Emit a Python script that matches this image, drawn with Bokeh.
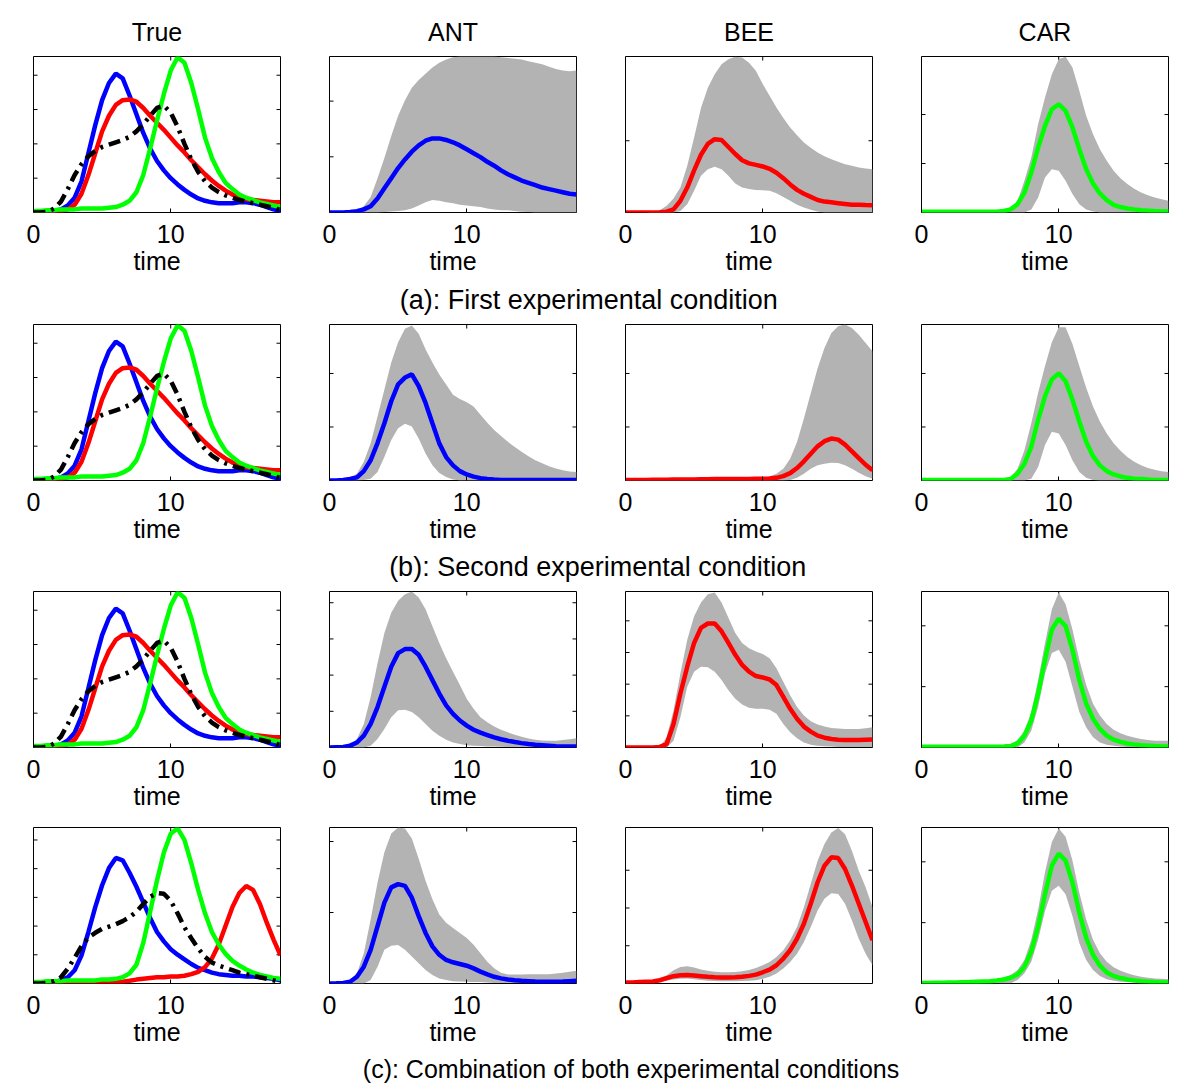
import math
from bokeh.plotting import figure
from bokeh.models import Range1d, FixedTicker, LinearAxis, Label
from bokeh.layouts import column, row
from bokeh.embed import file_html
from bokeh.resources import INLINE

# ---------------- data (time grid 0..18, step 0.5) ----------------
time = [i * 0.5 for i in range(37)]

col_titles = ["True", "ANT", "BEE", "CAR"]
captions = ["(a):  First experimental condition",
            "(b):  Second experimental condition",
            "(c):  Combination of both experimental conditions"]
x_ticks = [0, 10]

# true profiles (conditions a, b and first row of c)
true_blue = [0, 0, 0.5, 1, 2, 4.5, 9.5, 20, 38, 56, 72, 83, 89, 86, 75, 63, 51, 41, 33, 27,
             22, 18, 14.5, 11.5, 9, 7.5, 6.5, 6, 6, 6, 6.5, 6.5, 6, 5, 3.5, 2, 1]
true_red = [0, 0, 0, 0.5, 1, 2, 5, 12, 24, 38, 52, 62, 69, 72, 72.5, 71, 67, 62, 57.5, 53,
            48, 43, 38.5, 33.5, 29, 24.5, 20.5, 17, 14, 11.5, 10, 8.5, 8, 7.5, 7, 6.5, 6.5]
true_green = [1, 1, 1.5, 1.5, 2, 2, 2, 2.5, 2.5, 2.5, 2.5, 3, 3.5, 5, 7.5, 13, 24, 41, 59, 76,
              91, 99.5, 96, 83, 66, 48, 35, 26, 19, 15, 11.5, 9.5, 8, 6.5, 5.5, 4.5, 3.5]
true_black = [0, 0, 0.5, 2.5, 7, 15, 24, 31, 36, 39.5, 42, 43.5, 45, 46.5, 48.5, 52, 56.5, 62, 67, 68.5,
              64, 55, 44, 34, 26, 20, 16, 13, 11, 9.5, 8, 7, 6, 5, 4, 3, 1.5]
# true profiles, last row
true4_blue = [0, 0, 0.5, 1, 2, 4, 8.5, 18, 33, 49, 63, 74, 80.5, 79, 71, 62, 52, 42, 33, 27,
              22, 18.5, 15.5, 12.5, 10, 8.5, 7, 6, 5.5, 5, 5, 4.5, 4.5, 4, 3.5, 3, 2]
true4_red = [0, 0, 0, 0, 0, 0, 0, 0, 0, 0.2, 0.3, 0.5, 0.8, 1.2, 1.8, 2.5, 3, 3.5, 4, 4,
             4.5, 4.5, 5, 6, 7.5, 10.5, 16, 25, 37, 49, 58, 62.5, 60, 51, 39, 28, 18]
true4_green = [1, 1, 1.5, 1.5, 1.5, 2, 2, 2, 2, 2, 2.5, 2.5, 3, 4, 6.5, 12, 26, 46, 66, 84,
               96, 99.5, 92, 77, 60, 45, 33, 25, 19, 14.5, 11.5, 9, 7, 5.5, 4.5, 3.5, 3]
true4_black = [0, 0, 0.5, 1.5, 4, 9.5, 16.5, 24, 29.5, 32.5, 35, 36.5, 38, 40, 42.5, 46, 51, 55.5, 58, 57.5,
               53, 45, 36, 29, 22.5, 17, 13.5, 11.5, 10, 8.5, 7, 6, 5, 4, 3, 2, 1]

# ANT estimates: mean, lower, upper
ant1_mean = [0, 0, 0, 0.3, 0.8, 2, 4, 9, 15.5, 22, 28.5, 34, 39, 43, 46, 47.5, 47.5, 46.5, 45, 43,
             40.5, 38, 35.5, 32.5, 30, 27, 24.5, 22.5, 20.5, 19, 17.5, 16, 15, 14, 13, 12, 11.5]
ant1_lo = [0, 0, 0, 0, 0, 0, 0, 0, 0.3, 0.6, 1, 1.5, 2.5, 4.5, 6.5, 8, 7.5, 6.5, 6, 5,
           4.5, 4, 3.5, 2.5, 2, 1.5, 1.5, 1, 0.5, 0.3, 0, 0, 0, 0, 0, 0, 0]
ant1_hi = [0, 0, 0, 0.5, 1.5, 4, 10, 22, 35, 49, 62, 72, 80, 85, 89, 93, 96, 98, 99.5, 100,
           100, 100, 100, 100, 100, 99.5, 99, 98.5, 98, 97, 96, 95, 93.5, 92, 91, 90.5, 91]
ant2_mean = [0, 0, 0.4, 1, 2, 6, 13, 24, 36.7, 50.8, 61.6, 66, 68, 60.5, 49.7, 36.7, 23.8, 15, 9.7, 6,
             3.9, 2.5, 1.5, 1, 0.6, 0.4, 0.4, 0.4, 0.4, 0.4, 0.4, 0.4, 0.4, 0.4, 0.4, 0.4, 0.4]
ant2_lo = [0, 0, 0, 0, 0, 0.3, 1.1, 5.4, 15, 26, 33.5, 36.3, 34.6, 27, 17.3, 9.7, 4.8, 2.2, 0.6, 0,
           0, 0, 0, 0, 0, 0, 0, 0, 0, 0, 0, 0, 0, 0, 0, 0, 0]
ant2_hi = [0, 0.3, 1, 2, 4.3, 12, 23.8, 41, 58.3, 75.6, 88.6, 97.2, 99.4, 94, 84.2, 75.6, 68, 61.6, 55, 52.3,
           50.1, 47.5, 42.1, 37, 32.4, 28.5, 24.8, 21.5, 18.4, 15.5, 13, 11, 9.1, 7.7, 6.5, 5.8, 5.4]
ant3_mean = [0, 0.2, 0.4, 1.2, 3.2, 7.6, 15.1, 25.9, 38.9, 51.8, 60.5, 63.1, 63.1, 59.4, 51.8, 43.2, 34.6, 27, 21.6, 17.3,
             14, 11.4, 9.5, 8, 6.5, 5.3, 4.3, 3.5, 2.8, 2.2, 1.7, 1.4, 1.1, 0.8, 0.6, 0.6, 0.6]
ant3_lo = [0, 0, 0, 0, 0, 0, 1.1, 5.4, 11.9, 19.4, 23.8, 24.2, 22.7, 19.4, 15.1, 10.8, 7.6, 5, 3.2, 2.2,
           1.5, 1.1, 0.9, 0.7, 0.6, 0.5, 0.4, 0.4, 0.4, 0.4, 0.4, 0.4, 0.4, 0.4, 0.4, 0.4, 0.4]
ant3_hi = [0, 0.1, 0.4, 1.8, 5.4, 15.1, 32.4, 54, 73.4, 86.4, 94, 98.3, 100, 96.1, 88.6, 77.8, 67, 57.2, 48.6, 40,
           31.3, 24.8, 19.4, 16.2, 13.4, 11.4, 9.7, 8.2, 6.9, 5.8, 5, 4.5, 4.3, 4.4, 4.8, 5.3, 6]
ant4_mean = [0, 0.1, 0.4, 1.1, 4.3, 10.8, 21.6, 36.7, 51.8, 61.6, 63.7, 62.6, 55, 43.2, 32.4, 23.8, 18.4, 15.1, 13.6, 12.5,
             11.4, 9.7, 7.6, 5.8, 4.3, 3.3, 2.6, 2.1, 1.7, 1.5, 1.3, 1.2, 1.1, 1.2, 1.3, 1.5, 1.7]
ant4_lo = [0, 0, 0, 0, 0, 0, 2.2, 10.8, 21.6, 24.2, 24.6, 21.6, 17.3, 13, 8.6, 5.4, 3.2, 2.2, 1.5, 1.3,
           1.1, 1, 0.9, 0.6, 0.4, 0.4, 0.4, 0.4, 0.4, 0.4, 0.4, 0.4, 0.4, 0.4, 0.4, 0.4, 0.4]
ant4_hi = [0, 0.1, 0.4, 2.2, 6.5, 19.4, 41, 64.8, 84.2, 96.1, 100, 99.4, 92.9, 79.9, 65.9, 54, 44.3, 38.9, 35.6, 32.4,
           29.2, 24.8, 19.4, 14, 9.7, 6.9, 5.8, 5.8, 5.8, 5.9, 6, 6, 6, 6.4, 6.9, 7.5, 8.2]

# BEE estimates
bee1_mean = [0, 0, 0, 0, 0, 0.2, 0.5, 2, 7.5, 16, 27, 37, 44, 47, 46.5, 42, 37.5, 33.5, 31.5, 30.5,
             29.5, 28, 25.5, 22, 18, 14.5, 12, 10, 8, 7, 6.5, 6, 5.5, 5, 5, 4.8, 4.7]
bee1_lo = [0, 0, 0, 0, 0, 0, 0, 0, 1, 5.3, 13.9, 23.5, 27.8, 29.3, 27.8, 23.5, 18.6, 16, 15, 14.5,
           14.3, 13.9, 12.4, 10, 7.5, 4.9, 3.2, 1.7, 0.6, 0, 0, 0, 0, 0, 0, 0, 0]
bee1_hi = [0, 0, 0, 0, 0.5, 1.5, 4.3, 9, 16, 30, 48, 67, 80, 88.7, 95, 98.3, 99.8, 99.4, 96, 90.8,
           82.3, 74.8, 67.3, 60.5, 54.5, 49.5, 44.9, 41.5, 38.5, 36, 34.2, 32.5, 31, 30, 28.8, 28.2, 27.8]
bee2_mean = [0.4, 0.4, 0.4, 0.4, 0.5, 0.5, 0.5, 0.6, 0.6, 0.7, 0.7, 0.8, 0.8, 0.9, 0.9, 1, 1, 1, 1, 1.1,
             1.1, 1.3, 1.7, 2.8, 4.7, 8, 12.3, 17.2, 21.9, 25.2, 26.9, 26.2, 23, 18.7, 14.4, 10.1, 6.5]
bee2_lo = [0, 0, 0, 0, 0, 0, 0, 0, 0, 0, 0, 0, 0, 0, 0, 0, 0, 0, 0, 0,
           0, 0, 0, 0, 0.4, 1.7, 4.3, 7.5, 9.7, 10.8, 11.4, 11.2, 9.7, 7.5, 4.9, 2.8, 1.1]
bee2_hi = [0.4, 0.4, 0.5, 0.5, 0.6, 0.6, 0.7, 0.7, 0.8, 0.9, 1, 1, 1.1, 1.2, 1.3, 1.4, 1.5, 1.6, 1.7, 1.8,
           2, 2.6, 4.3, 7.5, 14, 24.7, 39.8, 55.9, 72, 85, 94.6, 98.9, 100, 97.8, 93.5, 88.2, 82.8]
bee3_mean = [0, 0, 0, 0, 0, 0.4, 2.2, 15.1, 34.6, 51.8, 67, 76.7, 79.5, 79.5, 74.5, 67, 59.4, 52.9, 48.6, 45.8,
             44.9, 43.6, 40, 32.4, 24.8, 18.4, 13.4, 10.2, 7.6, 6.3, 5.4, 5, 4.8, 4.8, 4.8, 5, 5.2]
bee3_lo = [0, 0, 0, 0, 0, 0, 0, 4.3, 19.4, 38.9, 48.6, 51.8, 51.4, 48.6, 43.2, 36.7, 31.3, 27.6, 25.5, 24.8,
           24.8, 24.2, 21.6, 15.1, 9.7, 6, 3.2, 1.7, 1.1, 0.8, 0.6, 0.4, 0.4, 0.4, 0.4, 0.4, 0.4]
bee3_hi = [0, 0, 0, 0, 0, 0.4, 6.5, 23.8, 47.5, 69.1, 84.2, 92.9, 98.3, 99.4, 92.9, 83.2, 73.4, 67, 63.7, 61.6,
           60, 57.2, 50.8, 42.1, 33.5, 25.9, 20.5, 16.8, 14.7, 13.4, 12.5, 12.1, 11.9, 11.9, 11.9, 12.3, 13]
bee4_mean = [0.6, 0.7, 0.9, 1.1, 1.3, 2.1, 3.4, 4.7, 5.3, 5.5, 5.1, 4.7, 4.3, 4, 3.8, 3.8, 4, 4.3, 4.9, 5.7,
             7.2, 8.9, 11.7, 16, 21.3, 28.7, 38.3, 51.1, 64.9, 75.5, 80.9, 80.4, 73.4, 62.8, 51.1, 39.4, 27.7]
bee4_lo = [0, 0.2, 0.3, 0.4, 0.6, 1.1, 1.7, 2.6, 3, 3.2, 2.8, 2.2, 1.7, 1.6, 1.5, 1.5, 1.5, 1.6, 1.7, 2.1,
           3, 4.3, 6.4, 9.6, 13.8, 19.1, 26.6, 36.2, 46.8, 54.3, 57.9, 57.4, 51.1, 40.4, 28.7, 19.1, 11.7]
bee4_hi = [0.6, 0.8, 1, 1.3, 1.7, 3.2, 5.3, 8.5, 10.6, 11.1, 10.2, 8.9, 8.1, 7.6, 7.2, 7.2, 7.4, 7.9, 8.7, 10,
           11.7, 13.8, 17, 21.3, 27.7, 36.2, 48.9, 63.8, 78.7, 89.4, 96.8, 99.6, 95.7, 85.1, 72.3, 61.7, 48.9]

# CAR estimates
car1_mean = [0.5, 0.5, 0.5, 0.5, 0.5, 0.5, 0.5, 0.5, 0.5, 0.5, 0.5, 0.5, 1, 2, 5.3, 12.8, 25.6, 41.7, 55.6, 66.2,
             69.4, 65.2, 54.5, 40.6, 27.8, 18.6, 12.2, 7.9, 4.9, 3.5, 2.6, 2, 1.5, 1.2, 0.9, 0.7, 0.6]
car1_lo = [0, 0, 0, 0, 0, 0, 0, 0, 0, 0, 0, 0, 0, 0, 0, 0, 2, 9.6, 22.4, 27.8,
           26.7, 20.3, 11.8, 5.3, 2, 0.6, 0, 0, 0, 0, 0, 0, 0, 0, 0, 0, 0]
car1_hi = [0.5, 0.5, 0.5, 0.5, 0.5, 0.5, 0.5, 0.5, 0.5, 0.5, 0.5, 0.5, 1.2, 3, 7.5, 20.3, 35.3, 56.6, 73.7, 88.7,
           98.3, 99.8, 93, 78, 62, 50.2, 40.6, 33.1, 26.7, 22, 18.2, 15.2, 12.8, 11, 9.6, 8.5, 7.5]
car2_mean = [0.4, 0.4, 0.4, 0.4, 0.4, 0.4, 0.4, 0.4, 0.4, 0.4, 0.4, 0.4, 0.4, 1, 4.3, 10.8, 21.6, 38.9, 54, 64.8,
             68.7, 63.7, 51.8, 37.8, 24.8, 15.6, 9.7, 6, 3.9, 2.6, 1.7, 1.2, 0.9, 0.6, 0.4, 0.4, 0.4]
car2_lo = [0, 0, 0, 0, 0, 0, 0, 0, 0, 0, 0, 0, 0, 0, 0, 0, 1.1, 8.6, 22.7, 31.3,
           30.2, 22.7, 13, 5.4, 1.7, 0.4, 0, 0, 0, 0, 0, 0, 0, 0, 0, 0, 0]
car2_hi = [0.4, 0.4, 0.4, 0.4, 0.4, 0.4, 0.4, 0.4, 0.4, 0.4, 0.4, 0.4, 0.8, 2.2, 7.6, 19.4, 36.7, 56.2, 73.4, 88.6,
           98.3, 98.3, 87.5, 73.4, 59.4, 47.5, 37.8, 30.2, 23.8, 19, 15.1, 12, 9.7, 8, 6.9, 6, 5.4]
car3_mean = [0.5, 0.5, 0.5, 0.5, 0.5, 0.5, 0.5, 0.5, 0.5, 0.5, 0.5, 0.5, 0.6, 0.9, 2.6, 7.6, 17.3, 34.6, 56.2, 75.6,
             82.5, 77.8, 62.6, 43.2, 28.1, 18.4, 11.9, 7.6, 5, 3.6, 2.6, 2, 1.5, 1.2, 0.9, 0.7, 0.6]
car3_lo = [0, 0, 0, 0, 0, 0, 0, 0, 0, 0, 0, 0, 0, 0, 0, 3.2, 10.8, 25.9, 47.5, 60.5,
           62.6, 55, 38.9, 22.7, 13, 6.5, 3.2, 1.7, 1.1, 0.7, 0.4, 0.4, 0.4, 0.4, 0.4, 0.4, 0.4]
car3_hi = [0.6, 0.6, 0.6, 0.6, 0.6, 0.6, 0.6, 0.6, 0.6, 0.6, 0.6, 0.6, 0.9, 2.2, 4.8, 10.8, 22.7, 43.2, 67, 88.6,
           99.4, 91.8, 75.6, 56.2, 40, 28.1, 20.5, 15.1, 11.4, 9.2, 7.6, 6.4, 5.4, 4.8, 4.3, 4.3, 4.3]
car4_mean = [0.4, 0.4, 0.5, 0.5, 0.6, 0.7, 0.8, 0.9, 1.1, 1.3, 1.5, 2, 2.6, 3.7, 5.8, 10.8, 20.5, 36.7, 57.2, 75.6,
             83.2, 78.8, 64.8, 45.4, 29.2, 18.4, 11.4, 7.1, 4.8, 3.5, 2.6, 2, 1.5, 1.2, 0.9, 0.7, 0.6]
car4_lo = [0.2, 0.2, 0.2, 0.2, 0.2, 0.2, 0.2, 0.2, 0.2, 0.2, 0.2, 0.2, 0.2, 0.2, 2.2, 6.5, 14, 28.1, 46.4, 59.4,
           62.6, 57.2, 43.2, 25.9, 15.1, 8.6, 4.8, 2.8, 1.7, 1.2, 0.9, 0.7, 0.6, 0.5, 0.4, 0.4, 0.4]
car4_hi = [0.6, 0.7, 0.8, 0.9, 1, 1.1, 1.2, 1.3, 1.5, 1.8, 2.2, 3, 3.9, 5.4, 8.6, 15.1, 28.1, 47.5, 71.3, 90.7,
           99.4, 94, 78.8, 58.3, 41, 28.1, 19.4, 14, 10.4, 8.2, 6.5, 5.3, 4.3, 3.7, 3.2, 3, 2.8]

# unlabeled y tick values of each panel (rows a, b, c1, c2)
yt_true = [[22, 44, 66, 88], [22, 44, 66, 88], [22, 44, 66, 88], [18.4, 36.8, 55.2, 73.6, 92]]
yt_ant = [[35.7, 71.4], [34.3, 68.6], [23.2, 46.4, 69.6, 92.8], [45.5, 91]]
yt_bee = [[46], [34.3, 68.6], [20.3, 40.6, 60.9, 81.2], [24.2, 48.4, 72.6]]
yt_car = [[31.4, 62.8], [34.3, 68.6], [39, 78], [39, 78]]

# ---------------- styling ----------------
FONT = "Liberation Sans"
FS = "25px"
BLUE, RED, GREEN, BLACK, GRAY = "#0000ff", "#ff0000", "#00ff00", "#000000", "#b3b3b3"
LW = 4.5
X0, X1, Y0, Y1 = 0, 18, 0, 100


def make_panel(yticks, title=None, top=6, bottom=70):
    p = figure(title=title, frame_width=247, frame_height=156,
               x_range=Range1d(X0, X1), y_range=Range1d(Y0, Y1),
               output_backend="svg", toolbar_location=None,
               min_border_left=33, min_border_right=16,
               min_border_top=top, min_border_bottom=bottom,
               x_axis_location=None, y_axis_location=None)
    if title is not None:
        p.title.align = "center"
        p.title.text_font = FONT
        p.title.text_font_size = FS
        p.title.text_font_style = "normal"
        p.title.text_color = "black"
        p.title.standoff = 22
    p.grid.visible = False
    p.outline_line_color = "black"
    p.outline_line_width = 1
    p.background_fill_color = "white"
    p.border_fill_color = "white"

    xb = LinearAxis(ticker=FixedTicker(ticks=x_ticks), axis_label="time")
    xb.axis_line_color = None
    xb.major_tick_in = 4
    xb.major_tick_out = 0
    xb.minor_tick_line_color = None
    xb.major_tick_line_color = "black"
    xb.major_label_text_font = FONT
    xb.major_label_text_font_size = FS
    xb.major_label_text_color = "black"
    xb.major_label_standoff = 12
    xb.axis_label_text_font = FONT
    xb.axis_label_text_font_size = FS
    xb.axis_label_text_font_style = "normal"
    xb.axis_label_text_color = "black"
    xb.axis_label_standoff = 1
    p.add_layout(xb, "below")

    # inward tick marks on the other three sides (MATLAB box style)
    tick = dict(length=4, length_units="screen", line_color="black", line_width=1)
    p.ray(x=[X0] * len(yticks), y=yticks, angle=0, **tick)
    p.ray(x=[X1] * len(yticks), y=yticks, angle=math.pi, **tick)
    p.ray(x=x_ticks, y=[Y1] * len(x_ticks), angle=-math.pi / 2, **tick)
    return p


def true_panel(blue, red, green, black, yticks, title=None, top=6, bottom=70):
    p = make_panel(yticks, title, top, bottom)
    p.line(time, blue, line_color=BLUE, line_width=LW)
    p.line(time, red, line_color=RED, line_width=LW)
    p.line(time, green, line_color=GREEN, line_width=LW)
    p.line(time, black, line_color=BLACK, line_width=LW, line_dash="12 6 3 6")
    return p


def est_panel(mean, lo, hi, color, yticks, title=None, top=6, bottom=70):
    p = make_panel(yticks, title, top, bottom)
    p.varea(x=time, y1=lo, y2=hi, fill_color=GRAY, fill_alpha=1.0)
    p.line(time, mean, line_color=color, line_width=LW)
    return p


def caption(text, h, cx, cy, size=FS):
    c = figure(width=1184, height=h, x_range=Range1d(0, 1184), y_range=Range1d(0, h),
               output_backend="svg", toolbar_location=None, title=None,
               x_axis_location=None, y_axis_location=None, min_border=0)
    c.grid.visible = False
    c.outline_line_color = None
    c.add_layout(Label(x=cx, y=h - cy, text=text, text_align="center", text_baseline="middle",
                       text_font=FONT, text_font_size=size, text_color="black"))
    return c


r1 = row(
    true_panel(true_blue, true_red, true_green, true_black, yt_true[0], col_titles[0], top=56),
    est_panel(ant1_mean, ant1_lo, ant1_hi, BLUE, yt_ant[0], col_titles[1], top=56),
    est_panel(bee1_mean, bee1_lo, bee1_hi, RED, yt_bee[0], col_titles[2], top=56),
    est_panel(car1_mean, car1_lo, car1_hi, GREEN, yt_car[0], col_titles[3], top=56),
)
cap_a = caption(captions[0], 36, 592, 17, "27px")
r2 = row(
    true_panel(true_blue, true_red, true_green, true_black, yt_true[1], top=6),
    est_panel(ant2_mean, ant2_lo, ant2_hi, BLUE, yt_ant[1], top=6),
    est_panel(bee2_mean, bee2_lo, bee2_hi, RED, yt_bee[1], top=6),
    est_panel(car2_mean, car2_lo, car2_hi, GREEN, yt_car[1], top=6),
)
cap_b = caption(captions[1], 35, 601, 16, "27px")
r3 = row(
    true_panel(true_blue, true_red, true_green, true_black, yt_true[2], top=6),
    est_panel(ant3_mean, ant3_lo, ant3_hi, BLUE, yt_ant[2], top=6),
    est_panel(bee3_mean, bee3_lo, bee3_hi, RED, yt_bee[2], top=6),
    est_panel(car3_mean, car3_lo, car3_hi, GREEN, yt_car[2], top=6),
)
r4 = row(
    true_panel(true4_blue, true4_red, true4_green, true4_black, yt_true[3], top=10),
    est_panel(ant4_mean, ant4_lo, ant4_hi, BLUE, yt_ant[3], top=10),
    est_panel(bee4_mean, bee4_lo, bee4_hi, RED, yt_bee[3], top=10),
    est_panel(car4_mean, car4_lo, car4_hi, GREEN, yt_car[3], top=10),
)
cap_c = caption(captions[2], 34, 634, 15)

layout = column(r1, cap_a, r2, cap_b, r3, r4, cap_c)

with open("out.html", "w") as f:
    f.write(file_html(layout, INLINE))
